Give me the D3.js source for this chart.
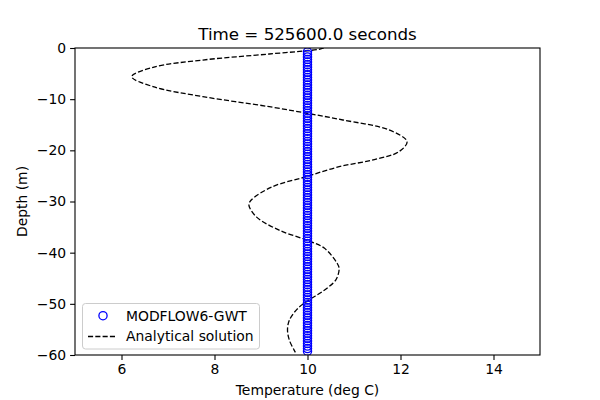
<!DOCTYPE html>
<html>
<head>
<meta charset="utf-8">
<script src="https://cdn.jsdelivr.net/npm/d3@7"></script>
<style>
  body { margin: 0; background: #fff; }
  text { font-family: "DejaVu Sans", sans-serif; fill: #000; }
</style>
</head>
<body>
<div id="chart"></div>
<script>
/* Temperature profile, MODFLOW6-GWT vs analytical */

// analytical solution (depth m, temperature deg C)
const anaDepth = [0, -0.25, -1.17, -2.35, -3.77, -5.6, -7.56, -9.5, -11.47, -13.1, -14.07, -16.0,
  -18.3, -20.3, -21.9, -23.2, -25.15, -27.1, -29.7, -30.7, -33.0, -35.6, -37.5, -39.1,
  -42.1, -43.1, -45.3, -47.6, -49.2, -50.9, -53.2, -55.1, -57.1, -59.0, -59.5];
const anaTemp = [10.35, 10.25, 9.18, 7.75, 6.68, 6.22, 6.68, 7.75, 9.18, 10.2, 10.76, 11.75,
  12.14, 11.96, 11.39, 10.68, 9.97, 9.25, 8.79, 8.74, 8.9, 9.39, 9.97, 10.36,
  10.64, 10.68, 10.61, 10.32, 10.04, 9.79, 9.61, 9.57, 9.61, 9.71, 9.74];

// model cell centres
const modelDepth = [
  -0.75, -1.25, -1.75, -2.25, -2.75, -3.25, -3.75, -4.25, -4.75, -5.25,
  -5.75, -6.25, -6.75, -7.25, -7.75, -8.25, -8.75, -9.25, -9.75, -10.25,
  -10.75, -11.25, -11.75, -12.25, -12.75, -13.25, -13.75, -14.25, -14.75, -15.25,
  -15.75, -16.25, -16.75, -17.25, -17.75, -18.25, -18.75, -19.25, -19.75, -20.25,
  -20.75, -21.25, -21.75, -22.25, -22.75, -23.25, -23.75, -24.25, -24.75, -25.25,
  -25.75, -26.25, -26.75, -27.25, -27.75, -28.25, -28.75, -29.25, -29.75, -30.25,
  -30.75, -31.25, -31.75, -32.25, -32.75, -33.25, -33.75, -34.25, -34.75, -35.25,
  -35.75, -36.25, -36.75, -37.25, -37.75, -38.25, -38.75, -39.25, -39.75, -40.25,
  -40.75, -41.25, -41.75, -42.25, -42.75, -43.25, -43.75, -44.25, -44.75, -45.25,
  -45.75, -46.25, -46.75, -47.25, -47.75, -48.25, -48.75, -49.25, -49.75, -50.25,
  -50.75, -51.25, -51.75, -52.25, -52.75, -53.25, -53.75, -54.25, -54.75, -55.25,
  -55.75, -56.25, -56.75, -57.25, -57.75, -58.25, -58.75, -59.25];
const modelTemp = [
  10, 10, 10, 10, 10, 10, 10, 10, 10, 10, 10, 10, 10, 10, 10, 10, 10, 10, 10, 10,
  10, 10, 10, 10, 10, 10, 10, 10, 10, 10, 10, 10, 10, 10, 10, 10, 10, 10, 10, 10,
  10, 10, 10, 10, 10, 10, 10, 10, 10, 10, 10, 10, 10, 10, 10, 10, 10, 10, 10, 10,
  10, 10, 10, 10, 10, 10, 10, 10, 10, 10, 10, 10, 10, 10, 10, 10, 10, 10, 10, 10,
  10, 10, 10, 10, 10, 10, 10, 10, 10, 10, 10, 10, 10, 10, 10, 10, 10, 10, 10, 10,
  10, 10, 10, 10, 10, 10, 10, 10, 10, 10, 10, 10, 10, 10, 10, 10, 10, 10];

const xTicks = [6, 8, 10, 12, 14];
const yTicks = [0, -10, -20, -30, -40, -50, -60];

const height = 400,
  width = 600,
  margin = ({ top: 48, right: 60, bottom: 45, left: 75 });

const svg = d3.select("#chart")
  .append("svg")
  .attr("width", width)
  .attr("height", height);

svg.append("rect").attr("width", width).attr("height", height).attr("fill", "#fff");

let x = d3.scaleLinear()
  .domain([5, 15])
  .range([margin.left, width - margin.right]);

let y = d3.scaleLinear()
  .domain([-60, 0])
  .range([height - margin.bottom, margin.top]);

svg.append("clipPath").attr("id", "plot-clip")
  .append("rect")
  .attr("x", margin.left).attr("y", margin.top)
  .attr("width", width - margin.left - margin.right)
  .attr("height", height - margin.top - margin.bottom);

const plot = svg.append("g").attr("clip-path", "url(#plot-clip)");

// analytical curve
let line = d3.line()
  .x(i => x(anaTemp[i]))
  .y(i => y(anaDepth[i]))
  .curve(d3.curveCatmullRom.alpha(0.5));

plot.append("path")
  .datum(d3.range(anaDepth.length))
  .attr("d", line)
  .attr("fill", "none")
  .attr("stroke", "black")
  .attr("stroke-width", 1.3)
  .attr("stroke-dasharray", "5.1,2.2");

// model markers
plot.selectAll("circle.model")
  .data(modelDepth)
  .join("circle")
  .attr("class", "model")
  .attr("cx", (d, i) => x(modelTemp[i]))
  .attr("cy", d => y(d))
  .attr("r", 4.1)
  .attr("fill", "none")
  .attr("stroke", "blue")
  .attr("stroke-width", 1.3);

// axes
const xAxis = svg.append("g")
  .attr("transform", `translate(0,${height - margin.bottom})`)
  .call(d3.axisBottom(x).tickValues(xTicks).tickSizeOuter(0).tickSize(4.9).tickPadding(4));

const yAxis = svg.append("g")
  .attr("transform", `translate(${margin.left},0)`)
  .call(d3.axisLeft(y).tickValues(yTicks).tickSizeOuter(0).tickSize(4.9).tickPadding(4));

for (const ax of [xAxis, yAxis]) {
  ax.select(".domain").remove();
  ax.selectAll(".tick line").attr("stroke", "black").attr("stroke-width", 1.1);
  ax.selectAll(".tick text")
    .attr("font-family", "DejaVu Sans")
    .attr("font-size", 13.9)
    .attr("fill", "black");
}

// spines
svg.append("rect")
  .attr("x", margin.left).attr("y", margin.top)
  .attr("width", width - margin.left - margin.right)
  .attr("height", height - margin.top - margin.bottom)
  .attr("fill", "none")
  .attr("stroke", "black")
  .attr("stroke-width", 1.1);

// title and labels
svg.append("text")
  .attr("x", (margin.left + width - margin.right) / 2)
  .attr("y", 40)
  .attr("text-anchor", "middle")
  .attr("font-size", 16.7)
  .text("Time = 525600.0 seconds");

svg.append("text")
  .attr("x", (margin.left + width - margin.right) / 2)
  .attr("y", 395)
  .attr("text-anchor", "middle")
  .attr("font-size", 13.9)
  .text("Temperature (deg C)");

svg.append("text")
  .attr("transform", `translate(27,${(margin.top + height - margin.bottom) / 2}) rotate(-90)`)
  .attr("text-anchor", "middle")
  .attr("font-size", 13.9)
  .text("Depth (m)");

// legend
const legend = svg.append("g");

legend.append("rect")
  .attr("x", 82.5).attr("y", 303.5)
  .attr("width", 177).attr("height", 45.5)
  .attr("rx", 3)
  .attr("fill", "white").attr("fill-opacity", 0.8)
  .attr("stroke", "#cccccc").attr("stroke-width", 1);

legend.append("circle")
  .attr("cx", 103).attr("cy", 315.7)
  .attr("r", 4.1)
  .attr("fill", "none").attr("stroke", "blue").attr("stroke-width", 1.3);

legend.append("line")
  .attr("x1", 88).attr("x2", 116)
  .attr("y1", 336.5).attr("y2", 336.5)
  .attr("stroke", "black").attr("stroke-width", 1.3)
  .attr("stroke-dasharray", "5.1,2.2");

legend.append("text")
  .attr("x", 126).attr("y", 320.7)
  .attr("font-size", 13.9)
  .text("MODFLOW6-GWT");

legend.append("text")
  .attr("x", 126).attr("y", 341.3)
  .attr("font-size", 13.9)
  .text("Analytical solution");

</script>
</body>
</html>
